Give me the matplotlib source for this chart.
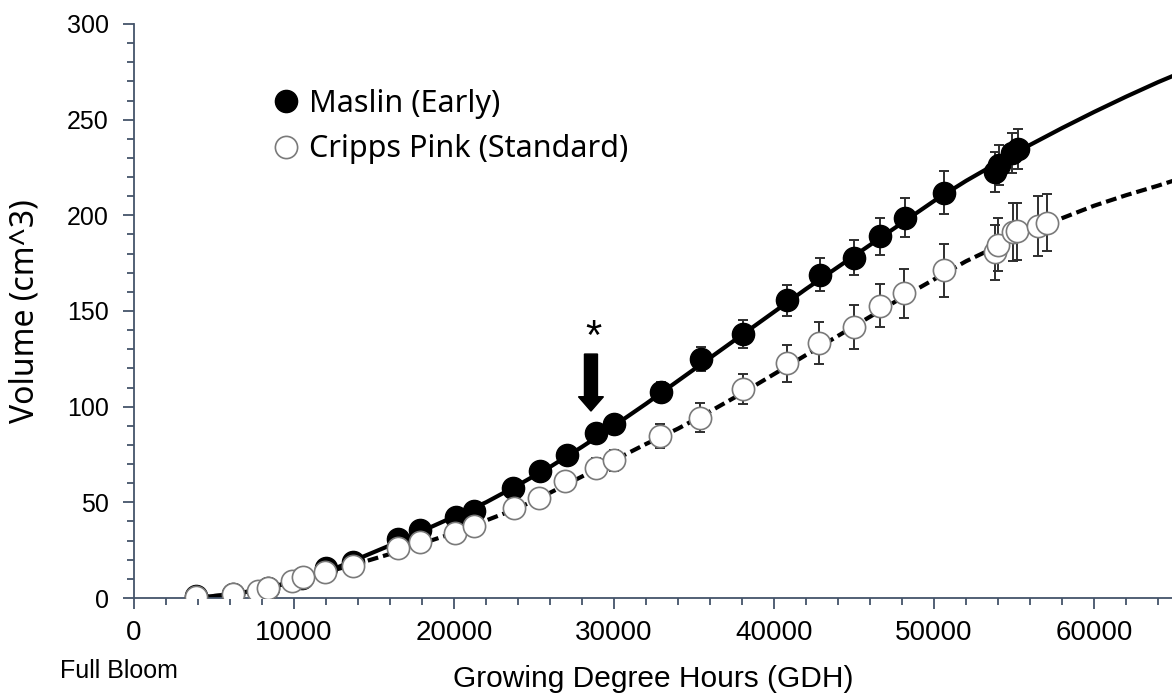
import matplotlib
matplotlib.use("Agg")
import matplotlib.pyplot as plt
from matplotlib.lines import Line2D
from matplotlib.ticker import MultipleLocator

# ---------------- data ----------------
maslin_gdh = [3900, 6200, 8400, 10500, 12000, 13700, 16500, 17900, 20100, 21250,
              23710, 25375, 27040, 28850, 30020, 32920, 35420, 38040, 40830, 42875,
              45020, 46625, 48190, 50645, 53800, 54050, 54900, 55250]
maslin_vol = [0.8, 2.2, 5.0, 10.5, 15.5, 19.0, 31.0, 35.5, 42.3, 45.6,
              57.5, 66.3, 75.0, 86.4, 90.8, 107.7, 124.9, 138.0, 155.5, 169.0,
              177.9, 189.0, 198.7, 211.8, 222.5, 226.5, 232.5, 234.5]
maslin_err = [0.3, 0.5, 0.8, 1.0, 1.2, 1.5, 2.0, 2.2, 2.5, 2.7,
              3.0, 3.3, 3.6, 4.0, 4.3, 5.0, 6.3, 7.3, 7.9, 8.7,
              9.2, 9.8, 10.2, 11.2, 10.5, 10.5, 10.5, 10.5]

cripps_gdh = [3875, 6190, 7750, 8375, 9875, 10560, 11940, 13670, 16520, 17875,
              20060, 21250, 23750, 25310, 26960, 28875, 30020, 32875, 35375, 38040,
              40830, 42810, 45020, 46625, 48125, 50645, 53810, 54020, 54960, 55170,
              56520, 57040]
cripps_vol = [0.5, 2.0, 3.7, 5.2, 8.9, 11.0, 13.6, 16.9, 26.0, 29.5,
              33.9, 37.4, 47.0, 52.3, 61.0, 68.0, 71.9, 84.6, 94.3, 109.1,
              122.6, 133.3, 141.5, 152.8, 159.3, 171.2, 180.8, 184.7, 191.3, 191.6,
              194.5, 196.2]
cripps_err = [0.3, 0.4, 0.5, 0.6, 0.8, 0.9, 1.0, 1.2, 1.6, 1.8,
              2.0, 2.2, 2.5, 3.0, 3.5, 5.0, 5.4, 6.1, 7.6, 7.9,
              9.8, 10.9, 11.5, 11.4, 12.7, 13.7, 14.4, 14.0, 15.0, 15.0,
              15.6, 15.0]

# fitted growth curves
curve_gdh = [4000, 6000, 8000, 10000, 12000, 14000, 16000, 18000, 20000, 22000,
             24000, 26000, 28000, 30000, 32000, 34000, 36000, 38000, 40000, 42000,
             44000, 46000, 48000, 50000, 52000, 54000, 56000, 58000, 60000, 62000,
             64000, 65000]
maslin_curve = [0.3, 1.8, 4.5, 8.5, 13.5, 20.5, 27.5, 35.0, 42.5, 50.0,
                59.0, 68.5, 79.0, 90.0, 101.5, 113.5, 125.5, 137.5, 149.5, 161.5,
                173.0, 184.5, 196.0, 207.5, 218.0, 227.6, 236.8, 245.6, 254.0, 262.0,
                269.6, 273.1]
cripps_curve = [0.3, 1.8, 4.5, 8.8, 13.5, 18.0, 23.0, 28.5, 34.0, 40.5,
                47.0, 55.0, 63.5, 72.0, 80.5, 88.5, 97.5, 107.0, 117.0, 127.0,
                137.0, 147.0, 157.0, 166.5, 176.0, 184.0, 191.5, 198.5, 205.0, 210.5,
                215.5, 218.2]

x_ticks = [0, 10000, 20000, 30000, 40000, 50000, 60000]
y_ticks = [0, 50, 100, 150, 200, 250, 300]
series_labels = ["Maslin (Early)", "Cripps Pink (Standard)"]
arrow_gdh = 28560
arrow_top, arrow_tip = 127.5, 97.7
star_vol = 136

# ---------------- fonts ----------------
arial = "Liberation Sans"
aptos = "Noto Sans"

W, H = 1172, 694
fig = plt.figure(figsize=(W / 100, H / 100), dpi=100)
x0, x1 = 134, 1172
y0, y1 = 598, 24
ax = fig.add_axes([x0 / W, (H - y0) / H, (x1 - x0) / W, (y0 - y1) / H])

ax.set_xlim(0, (x1 - x0) / 160 * 10000)
ax.set_ylim(0, 300)

# curves
ax.plot(curve_gdh, maslin_curve, color="black", lw=3.0, solid_capstyle="butt", zorder=2)
ax.plot(curve_gdh, cripps_curve, color="black", lw=3.0, ls=(0, (2.6, 1.2)), zorder=2)

# error bars
ecol = "#2e2e2e"
ax.errorbar(maslin_gdh, maslin_vol, yerr=maslin_err, fmt="none", ecolor=ecol,
            elinewidth=1.4, capsize=3.5, capthick=1.4, zorder=3)
ax.errorbar(cripps_gdh, cripps_vol, yerr=cripps_err, fmt="none", ecolor=ecol,
            elinewidth=1.4, capsize=3.5, capthick=1.4, zorder=3)

ms = 16
ax.plot(maslin_gdh, maslin_vol, ls="none", marker="o", ms=ms, mfc="black",
        mec="black", mew=1.0, zorder=4)
ax.plot(cripps_gdh, cripps_vol, ls="none", marker="o", ms=ms, mfc="white",
        mec="#7a7a7a", mew=1.2, zorder=5)

# arrow and asterisk
px_x = 10000 / 160
ax.arrow(arrow_gdh, arrow_top, 0, arrow_tip - arrow_top, width=13 * px_x,
         head_width=25 * px_x, head_length=7.5, length_includes_head=True,
         fc="black", ec="black", zorder=6)
ax.text(arrow_gdh + 150, star_vol, "*", ha="center", va="center", fontsize=30,
        family=arial, zorder=6)

# axes styling
spine_col = "#44546A"
for s in ["top", "right"]:
    ax.spines[s].set_visible(False)
for s in ["left", "bottom"]:
    ax.spines[s].set_color(spine_col)
    ax.spines[s].set_linewidth(1.3)

ax.set_xticks(x_ticks)
ax.set_yticks(y_ticks)
ax.xaxis.set_minor_locator(MultipleLocator(2000))
ax.yaxis.set_minor_locator(MultipleLocator(10))
ax.tick_params(which="major", direction="out", length=8, width=1.3, color=spine_col)
ax.tick_params(which="minor", direction="out", length=5, width=1.3, color=spine_col)
ax.tick_params(axis="x", which="major", pad=8)
ax.tick_params(axis="y", which="major", pad=10)

for lab in ax.get_xticklabels():
    lab.set_family(arial)
    lab.set_fontsize(20)
for lab in ax.get_yticklabels():
    lab.set_family(arial)
    lab.set_fontsize(18)

ax.set_xlabel("Growing Degree Hours (GDH)", family=arial, fontsize=21.5)
ax.xaxis.set_label_coords(0.5, -(693 - y0) / (y0 - y1))
ax.xaxis.label.set_va("bottom")
ax.set_ylabel("Volume (cm^3)", family=aptos, fontsize=23)
ax.yaxis.set_label_coords((42 - x0) / (x1 - x0), 0.5)

fig.text(60 / W, 1 - 671 / H, "Full Bloom", family=arial, fontsize=18,
         ha="left", va="center")

handles = [
    Line2D([], [], ls="none", marker="o", ms=ms, mfc="black", mec="black"),
    Line2D([], [], ls="none", marker="o", ms=ms, mfc="white", mec="#7a7a7a", mew=1.2),
]
ax.legend(handles, series_labels, loc="upper left",
          bbox_to_anchor=((274 - x0) / (x1 - x0), (y0 - 89) / (y0 - y1)),
          frameon=False, prop={"family": aptos, "size": 22},
          handlelength=0.8, handletextpad=0.35, labelspacing=0.5,
          borderpad=0, borderaxespad=0)

fig.savefig("out.png", dpi=100)
